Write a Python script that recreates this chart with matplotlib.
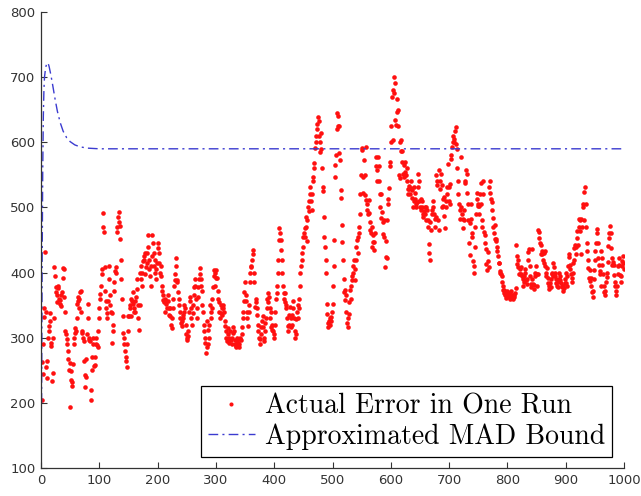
import numpy as np
import matplotlib.pyplot as plt

# actual error per run step (one value per step 1..1000)
actual_error = [
    205, 262, 245, 290, 332, 345, 431, 340, 255, 238,
    265, 300, 318, 310, 338, 325, 292, 288, 234, 246,
    300, 330, 408, 395, 370, 378, 366, 355, 380, 376,
    360, 352, 358, 365, 348, 370, 392, 407, 405, 362,
    340, 310, 305, 291, 298, 280, 268, 250, 261, 193,
    249, 235, 226, 232, 260, 290, 300, 307, 315, 310,
    330, 352, 363, 357, 345, 360, 370, 372, 340, 310,
    307, 300, 295, 264, 243, 225, 240, 268, 305, 330,
    352, 300, 296, 295, 204, 220, 250, 270, 290, 300,
    256, 270, 258, 290, 300, 289, 285, 310, 330, 345,
    360, 367, 380, 398, 405, 470, 492, 463, 408, 372,
    356, 345, 338, 330, 356, 390, 410, 365, 350, 340,
    338, 292, 310, 320, 372, 385, 402, 408, 400, 462,
    470, 485, 493, 478, 472, 452, 420, 390, 360, 333,
    307, 290, 300, 280, 265, 270, 255, 290, 310, 333,
    333, 345, 350, 360, 333, 356, 370, 352, 340, 345,
    356, 340, 362, 375, 390, 350, 330, 312, 350, 400,
    410, 390, 380, 400, 418, 420, 425, 430, 398, 408,
    415, 430, 457, 440, 420, 405, 395, 380, 410, 425,
    457, 445, 430, 410, 420, 400, 390, 405, 415, 438,
    445, 430, 415, 400, 410, 395, 380, 372, 365, 358,
    355, 360, 340, 352, 357, 345, 365, 357, 335, 346,
    333, 346, 320, 315, 330, 345, 360, 380, 388, 398,
    422, 410, 388, 385, 370, 360, 350, 340, 330, 322,
    325, 318, 330, 335, 340, 350, 345, 320, 305, 300,
    297, 303, 310, 340, 362, 356, 345, 330, 320, 338,
    350, 365, 378, 390, 380, 360, 345, 330, 362, 378,
    390, 407, 398, 390, 380, 372, 350, 340, 320, 310,
    300, 292, 276, 285, 325, 312, 290, 300, 320, 350,
    340, 330, 345, 360, 378, 395, 404, 400, 380, 392,
    404, 392, 372, 360, 355, 340, 330, 338, 350, 345,
    335, 345, 350, 340, 325, 318, 310, 300, 295, 305,
    315, 300, 292, 298, 310, 296, 290, 300, 307, 317,
    310, 297, 290, 285, 288, 295, 300, 292, 286, 290,
    298, 300, 297, 305, 316, 330, 340, 356, 370, 385,
    365, 356, 340, 330, 318, 340, 350, 385, 400, 410,
    408, 420, 434, 428, 400, 385, 347, 355, 360, 345,
    335, 320, 310, 300, 290, 298, 305, 317, 325, 333,
    317, 300, 295, 310, 322, 330, 345, 360, 368, 355,
    362, 345, 330, 340, 316, 312, 320, 310, 300, 305,
    320, 340, 360, 368, 380, 400, 420, 450, 468, 460,
    450, 434, 419, 400, 380, 368, 360, 368, 355, 350,
    345, 330, 318, 310, 320, 335, 347, 330, 316, 320,
    335, 357, 345, 330, 310, 300, 305, 328, 340, 350,
    330, 345, 360, 380, 399, 410, 419, 430, 440, 454,
    460, 468, 455, 485, 470, 448, 480, 500, 495, 510,
    520, 531, 510, 496, 520, 540, 547, 560, 568, 591,
    600, 610, 620, 628, 639, 632, 610, 585, 600, 615,
    590, 560, 531, 525, 485, 454, 440, 420, 400, 352,
    337, 322, 316, 325, 330, 320, 326, 332, 340, 352,
    380, 410, 450, 546, 565, 580, 620, 645, 625, 640,
    625, 583, 573, 527, 514, 473, 447, 420, 390, 370,
    358, 373, 365, 340, 322, 316, 330, 337, 355, 373,
    360, 380, 395, 388, 400, 410, 419, 405, 388, 420,
    440, 450, 430, 455, 460, 470, 490, 520, 550, 591,
    588, 547, 522, 573, 550, 519, 592, 512, 505, 496,
    490, 511, 491, 478, 465, 460, 470, 439, 457, 447,
    434, 447, 460, 577, 563, 558, 540, 578, 563, 540,
    520, 500, 484, 521, 493, 478, 459, 455, 480, 408,
    424, 449, 423, 480, 505, 513, 530, 563, 570, 600,
    625, 670, 604, 680, 700, 675, 691, 634, 626, 666,
    647, 650, 625, 550, 545, 600, 587, 604, 587, 570,
    551, 546, 565, 555, 570, 550, 560, 540, 528, 520,
    528, 533, 520, 541, 530, 527, 515, 500, 510, 532,
    522, 513, 505, 500, 508, 531, 551, 540, 510, 500,
    496, 513, 510, 500, 490, 485, 495, 500, 490, 480,
    500, 496, 480, 470, 444, 430, 419, 478, 465, 490,
    496, 510, 500, 490, 482, 470, 485, 550, 540, 535,
    481, 466, 557, 528, 540, 551, 535, 500, 513, 502,
    516, 487, 468, 500, 510, 531, 520, 567, 531, 510,
    536, 505, 575, 580, 592, 600, 610, 600, 605, 618,
    623, 597, 590, 560, 540, 520, 505, 496, 482, 577,
    500, 490, 482, 468, 480, 496, 541, 537, 557, 551,
    522, 505, 480, 445, 427, 476, 505, 482, 460, 455,
    418, 399, 410, 440, 470, 490, 513, 522, 502, 505,
    490, 502, 520, 537, 505, 480, 470, 541, 520, 463,
    457, 445, 436, 413, 404, 432, 418, 408, 532, 541,
    522, 513, 509, 496, 484, 470, 460, 473, 452, 448,
    452, 440, 433, 425, 414, 415, 402, 400, 398, 394,
    385, 380, 373, 368, 373, 365, 361, 365, 368, 372,
    368, 362, 365, 360, 368, 372, 362, 364, 366, 360,
    362, 365, 368, 376, 442, 425, 413, 420, 409, 398,
    398, 405, 409, 398, 395, 390, 380, 385, 395, 405,
    400, 389, 383, 390, 432, 420, 436, 410, 395, 383,
    378, 390, 436, 383, 375, 381, 395, 400, 410, 398,
    380, 398, 465, 462, 453, 446, 428, 443, 433, 428,
    420, 415, 430, 433, 410, 400, 395, 407, 392, 384,
    375, 380, 384, 378, 390, 398, 400, 395, 414, 408,
    400, 395, 390, 384, 380, 378, 386, 390, 400, 395,
    388, 384, 380, 378, 372, 380, 376, 384, 390, 400,
    384, 380, 395, 410, 424, 428, 412, 405, 398, 392,
    386, 400, 414, 420, 438, 443, 428, 440, 453, 464,
    443, 470, 482, 464, 481, 428, 482, 470, 500, 506,
    481, 524, 531, 506, 470, 445, 433, 420, 407, 392,
    404, 387, 392, 380, 370, 362, 372, 390, 404, 420,
    433, 446, 460, 467, 446, 423, 412, 403, 398, 380,
    433, 423, 412, 398, 380, 370, 365, 372, 385, 393,
    400, 416, 441, 453, 460, 472, 460, 438, 423, 412,
    416, 412, 397, 386, 380, 372, 365, 380, 398, 410,
    423, 412, 397, 386, 395, 410, 418, 425, 415, 405,
]
steps = np.arange(1, len(actual_error) + 1)

# approximated MAD bound
bound_x = [1, 2, 3, 4, 5, 6, 8, 10, 12, 14, 17, 20, 24, 28, 33, 38, 44, 50, 58, 67, 80, 100, 1000]
bound_y = [200, 420, 560, 640, 680, 700, 715, 721, 722, 716, 703, 688, 667, 648, 630, 617, 607,
           601, 596, 593, 591, 590, 590]

x_ticks = [0, 100, 200, 300, 400, 500, 600, 700, 800, 900, 1000]
y_ticks = [100, 200, 300, 400, 500, 600, 700, 800]

fig = plt.figure(figsize=(6.41, 4.96), dpi=100)
ax = fig.add_axes([41 / 641, 28 / 496, 583 / 641, 456 / 496])

ax.plot(steps, actual_error, linestyle="none", marker="o", markersize=3.3,
        markeredgewidth=0, color="#ff1010", label="Actual Error in One Run")
ax.plot(bound_x, bound_y, color="#3b3bd0", linewidth=1.0,
        linestyle=(0, (7, 3, 1.5, 3)), label="Approximated MAD Bound")

ax.set_xlim(0, 1000)
ax.set_ylim(100, 800)
ax.set_xticks(x_ticks)
ax.set_yticks(y_ticks)

for side in ["top", "right"]:
    ax.spines[side].set_visible(False)
for side in ["left", "bottom"]:
    ax.spines[side].set_color("#333333")
    ax.spines[side].set_linewidth(0.9)

ax.tick_params(direction="in", length=4, width=0.8, color="#333333",
               labelsize=9.5, labelcolor="#333333", pad=4)

leg = ax.legend(loc="lower right", bbox_to_anchor=(0.979, 0.024),
                frameon=True, fancybox=False, edgecolor="black", framealpha=1,
                prop={"family": "cmr10", "size": 20}, handlelength=1.7,
                handletextpad=0.35, borderpad=0.25, borderaxespad=0.0,
                labelspacing=0.15, markerscale=0.9)
leg.get_frame().set_linewidth(0.9)

fig.savefig("out.png", dpi=100)
